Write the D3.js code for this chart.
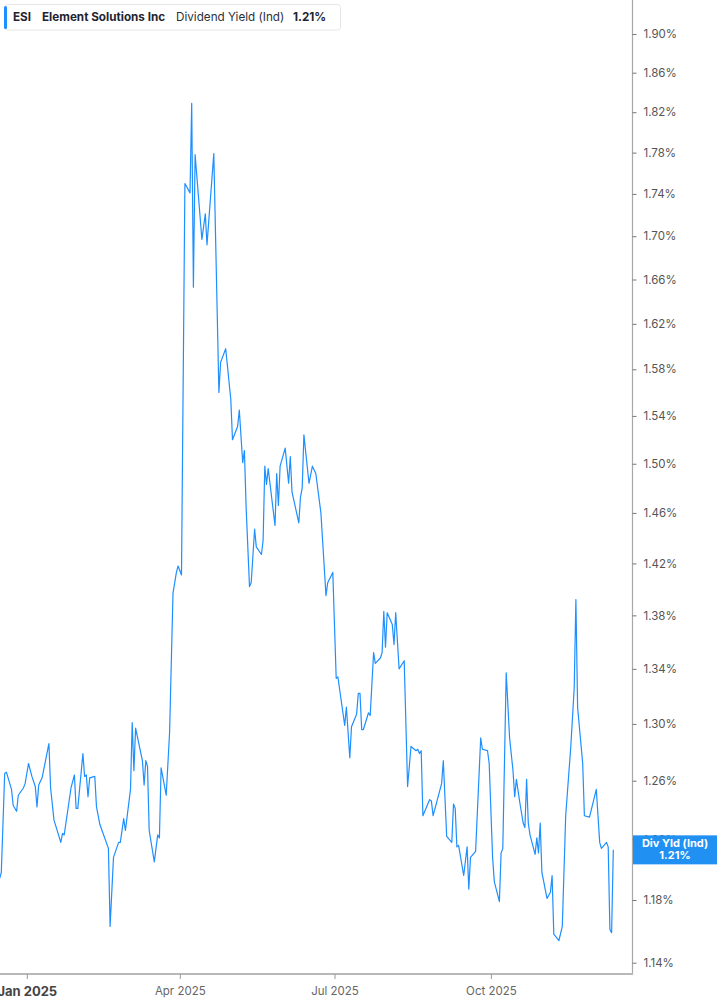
<!DOCTYPE html>
<html><head><meta charset="utf-8">
<script src="https://cdn.jsdelivr.net/npm/d3@7"></script>
<style>
body{margin:0;background:#fff;}
svg{display:block;font-family:Inter,Roboto,"Noto Sans",sans-serif;}
</style>
</head><body>
<svg id="c" width="717" height="1005"></svg>
<script>
const dates = [
"2024-12-16","2024-12-17","2024-12-19","2024-12-20","2024-12-23","2024-12-24","2024-12-26","2024-12-27","2024-12-30","2024-12-31",
"2025-01-02","2025-01-04","2025-01-06","2025-01-07","2025-01-08","2025-01-10","2025-01-14","2025-01-15","2025-01-17","2025-01-21",
"2025-01-22","2025-01-23","2025-01-27","2025-01-29","2025-01-30","2025-01-31","2025-02-03","2025-02-04","2025-02-05","2025-02-06",
"2025-02-07","2025-02-10","2025-02-11","2025-02-13","2025-02-18","2025-02-19","2025-02-21","2025-02-24","2025-02-25","2025-02-27",
"2025-02-28","2025-03-03","2025-03-04","2025-03-05","2025-03-06","2025-03-10","2025-03-11","2025-03-12","2025-03-13","2025-03-14",
"2025-03-17","2025-03-19","2025-03-20","2025-03-21","2025-03-24","2025-03-26","2025-03-28","2025-03-30","2025-03-31","2025-04-02",
"2025-04-04","2025-04-07","2025-04-08","2025-04-09","2025-04-10","2025-04-14","2025-04-16","2025-04-17","2025-04-21","2025-04-24",
"2025-04-25","2025-04-28","2025-05-01","2025-05-02","2025-05-05","2025-05-06","2025-05-08","2025-05-09","2025-05-10","2025-05-12",
"2025-05-13","2025-05-15","2025-05-16","2025-05-19","2025-05-20","2025-05-21","2025-05-22","2025-05-23","2025-05-27","2025-05-28",
"2025-05-29","2025-05-30","2025-06-02","2025-06-04","2025-06-05","2025-06-06","2025-06-10","2025-06-11","2025-06-12","2025-06-13",
"2025-06-16","2025-06-18","2025-06-20","2025-06-23","2025-06-26","2025-06-27","2025-06-30","2025-07-02","2025-07-03","2025-07-07",
"2025-07-08","2025-07-10","2025-07-11","2025-07-14","2025-07-15","2025-07-16","2025-07-17","2025-07-18","2025-07-21","2025-07-22",
"2025-07-24","2025-07-25","2025-07-28","2025-07-29","2025-07-30","2025-07-31","2025-08-01","2025-08-04","2025-08-05","2025-08-06",
"2025-08-08","2025-08-11","2025-08-13","2025-08-15","2025-08-18","2025-08-19","2025-08-20","2025-08-21","2025-08-22","2025-08-26",
"2025-08-27","2025-08-28","2025-09-02","2025-09-03","2025-09-05","2025-09-08","2025-09-09","2025-09-10","2025-09-11","2025-09-12",
"2025-09-15","2025-09-17","2025-09-18","2025-09-19","2025-09-22","2025-09-25","2025-09-26","2025-09-29","2025-09-30","2025-10-02",
"2025-10-03","2025-10-06","2025-10-07","2025-10-08","2025-10-10","2025-10-12","2025-10-14","2025-10-15","2025-10-16","2025-10-18",
"2025-10-20","2025-10-21","2025-10-22","2025-10-23","2025-10-24","2025-10-27","2025-10-28","2025-10-29","2025-10-30","2025-10-31",
"2025-11-03","2025-11-05","2025-11-06","2025-11-07","2025-11-10","2025-11-12","2025-11-14","2025-11-17","2025-11-19","2025-11-20",
"2025-11-21","2025-11-24","2025-11-25","2025-11-28","2025-12-02","2025-12-04","2025-12-05","2025-12-08","2025-12-09","2025-12-10",
"2025-12-11","2025-12-12"
];
const yields = [
1.194,1.198,1.265,1.266,1.254,1.243,1.239,1.250,1.255,1.258,
1.272,1.263,1.256,1.242,1.257,1.262,1.286,1.255,1.233,1.218,
1.224,1.223,1.255,1.264,1.241,1.241,1.279,1.263,1.264,1.249,
1.262,1.263,1.242,1.230,1.214,1.163,1.208,1.218,1.218,1.234,
1.226,1.254,1.301,1.267,1.297,1.274,1.257,1.274,1.270,1.226,
1.205,1.223,1.221,1.269,1.250,1.294,1.397,1.413,1.418,1.411,
1.750,1.741,1.829,1.653,1.778,1.697,1.721,1.692,1.779,1.560,
1.586,1.598,1.554,1.520,1.531,1.545,1.501,1.511,1.465,1.402,
1.405,1.447,1.433,1.427,1.438,1.498,1.483,1.496,1.450,1.492,
1.466,1.498,1.513,1.484,1.506,1.477,1.452,1.473,1.480,1.524,
1.484,1.498,1.492,1.460,1.395,1.405,1.413,1.333,1.334,1.299,
1.312,1.276,1.298,1.307,1.322,1.322,1.296,1.296,1.308,1.306,
1.352,1.344,1.348,1.352,1.383,1.356,1.382,1.373,1.358,1.382,
1.340,1.346,1.256,1.284,1.281,1.282,1.279,1.281,1.236,1.247,
1.246,1.236,1.258,1.274,1.222,1.218,1.244,1.241,1.215,1.216,
1.196,1.215,1.187,1.208,1.212,1.290,1.282,1.281,1.272,1.208,
1.192,1.179,1.211,1.214,1.337,1.290,1.267,1.249,1.261,1.245,
1.231,1.228,1.261,1.231,1.223,1.210,1.221,1.211,1.231,1.198,
1.181,1.185,1.196,1.158,1.154,1.163,1.236,1.284,1.326,1.392,
1.312,1.272,1.236,1.235,1.254,1.218,1.214,1.218,1.215,1.161,
1.159,1.213
];
const yTickValues = [1.14,1.18,1.22,1.26,1.30,1.34,1.38,1.42,1.46,1.50,1.54,1.58,1.62,1.66,1.70,1.74,1.78,1.82,1.86,1.90];
const xTickDates = ["2025-01-01","2025-04-01","2025-07-01","2025-10-01"];
const xTickLabels = ["Jan 2025","Apr 2025","Jul 2025","Oct 2025"];
const ticker = "ESI";
const company = "Element Solutions Inc";
const metric = "Dividend Yield (Ind)";
const tagLabel = "Div Yld (Ind)";

const parse = d3.timeParse("%Y-%m-%d");
const data = dates.map((d,i)=>({date:parse(d), v:yields[i]}));
const last = data[data.length-1];

const lineColor = "#1e8fff";
const svg = d3.select("#c");
const W = 717, H = 1005;
const plotRight = 632, axisY = 974;

const x = d3.scaleTime().domain([parse("2024-12-16"), parse("2025-12-23")]).range([-0.4, plotRight]);
const y = d3.scaleLog().domain([1.14, 1.90]).range([962.7, 34]);

svg.append("clipPath").attr("id","clip").append("rect")
  .attr("x",0).attr("y",0).attr("width",plotRight).attr("height",axisY);

// line
svg.append("path").datum(data)
  .attr("clip-path","url(#clip)")
  .attr("fill","none").attr("stroke",lineColor).attr("stroke-width",1.2)
  .attr("stroke-linejoin","round")
  .attr("d", d3.line().x(d=>x(d.date)).y(d=>y(d.v)));

// right axis
svg.append("line").attr("x1",plotRight+0.5).attr("x2",plotRight+0.5).attr("y1",0).attr("y2",axisY)
  .attr("stroke","#a8a8a8").attr("stroke-width",1.2);
const yAxis = svg.append("g").attr("transform",`translate(${plotRight+0.5},0)`)
  .call(d3.axisRight(y).tickValues(yTickValues).tickSize(4).tickPadding(7)
    .tickFormat(v=>v.toFixed(2)+"%"));
yAxis.select(".domain").remove();
yAxis.selectAll(".tick line").attr("stroke","#777");
yAxis.selectAll(".tick text").attr("fill","#555").attr("font-size",11.5)
  .attr("font-family","Inter,Roboto,sans-serif");

// bottom axis
svg.append("line").attr("x1",0).attr("x2",plotRight+1).attr("y1",axisY).attr("y2",axisY)
  .attr("stroke","#b8b8b8").attr("stroke-width",2);
const xAxis = svg.append("g").attr("transform",`translate(0,${axisY})`)
  .call(d3.axisBottom(x).tickValues(xTickDates.map(parse)).tickSize(5).tickPadding(8)
    .tickFormat((d,i)=>xTickLabels[i]));
xAxis.select(".domain").remove();
xAxis.selectAll(".tick line").attr("stroke","#999");
xAxis.selectAll(".tick text").attr("fill","#666").attr("font-size",11.5)
  .attr("font-family","Inter,Roboto,sans-serif");
xAxis.selectAll(".tick text").filter((d,i)=>i===0)
  .attr("fill","#444").attr("font-weight","bold").attr("font-size",13).attr("dy","0.66em");

// last-value tag
const tagY = y(last.v);
const tag = svg.append("g");
tag.append("rect").attr("x",plotRight+1).attr("y",tagY-14.5).attr("width",W-plotRight-1).attr("height",29)
  .attr("fill","#2190f3");
tag.append("text").attr("x",675).attr("y",tagY-2.5).attr("text-anchor","middle")
  .attr("fill","#fff").attr("font-weight","bold").attr("font-size",11).text(tagLabel);
tag.append("text").attr("x",675).attr("y",tagY+9.5).attr("text-anchor","middle")
  .attr("fill","#fff").attr("font-weight","bold").attr("font-size",11).text(last.v.toFixed(2)+"%");

// header box
const hdr = svg.append("g");
hdr.append("rect").attr("x",4.5).attr("y",4.5).attr("width",336).attr("height",25.5).attr("rx",3)
  .attr("fill","#fff").attr("stroke","#e6e6e6");
hdr.append("rect").attr("x",4).attr("y",6).attr("width",3).attr("height",23).attr("rx",1.5)
  .attr("fill",lineColor);
hdr.append("text").attr("x",13).attr("y",21).attr("font-size",11.7).attr("font-weight","bold")
  .attr("fill","#1f2430").text(ticker);
hdr.append("text").attr("x",42).attr("y",21).attr("font-size",11.7).attr("font-weight","bold")
  .attr("fill","#1f2430").text(company);
hdr.append("text").attr("x",176).attr("y",21).attr("font-size",11.7)
  .attr("fill","#2a2f3a").text(metric);
hdr.append("text").attr("x",293).attr("y",21).attr("font-size",11.7).attr("font-weight","bold")
  .attr("fill","#1f2430").text(last.v.toFixed(2)+"%");
</script>
</body></html>
